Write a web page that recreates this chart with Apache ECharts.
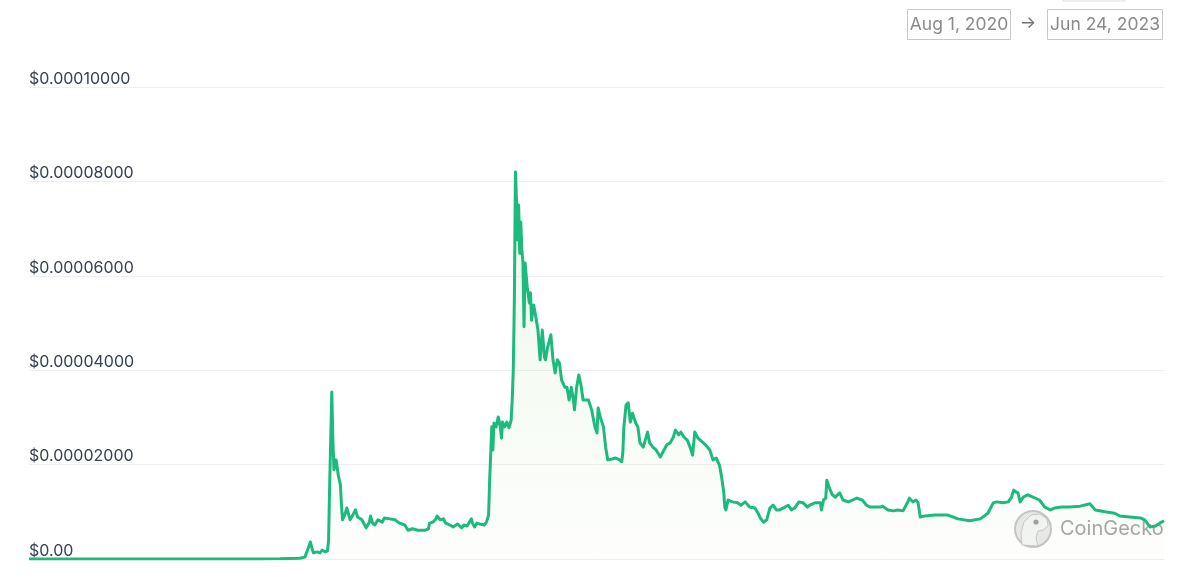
<!DOCTYPE html>
<html>
<head>
<meta charset="utf-8">
<style>
  html, body { margin: 0; padding: 0; background: #ffffff; }
  #chart { width: 1200px; height: 574px; }
</style>
<script src="https://cdn.jsdelivr.net/npm/echarts@6/dist/echarts.min.js"></script>
</head>
<body>
<div id="chart"></div>
<script>
// ---- Data ----
const rangeStart = "Aug 1, 2020";
const rangeEnd = "Jun 24, 2023";

const dates = [
  "2020-08-01","2020-10-06","2021-01-07","2021-03-04","2021-03-23","2021-04-10",
  "2021-04-15","2021-04-18","2021-04-20","2021-04-22","2021-04-23","2021-04-26",
  "2021-04-29","2021-05-01","2021-05-04","2021-05-06","2021-05-07","2021-05-08",
  "2021-05-10","2021-05-11","2021-05-12","2021-05-14","2021-05-16","2021-05-18",
  "2021-05-19","2021-05-20","2021-05-22","2021-05-24","2021-05-27","2021-05-30",
  "2021-06-01","2021-06-03","2021-06-07","2021-06-11","2021-06-14","2021-06-15",
  "2021-06-17","2021-06-19","2021-06-22","2021-06-26","2021-06-28","2021-07-03",
  "2021-07-08","2021-07-12","2021-07-17","2021-07-20","2021-07-24","2021-07-29",
  "2021-08-05","2021-08-08","2021-08-09","2021-08-12","2021-08-15","2021-08-16",
  "2021-08-19","2021-08-22","2021-08-24","2021-08-28","2021-08-31","2021-09-04",
  "2021-09-06","2021-09-08","2021-09-10","2021-09-13","2021-09-17","2021-09-18",
  "2021-09-20","2021-09-22","2021-09-25","2021-09-29","2021-10-01","2021-10-03",
  "2021-10-04","2021-10-06","2021-10-07","2021-10-08","2021-10-10","2021-10-12",
  "2021-10-14","2021-10-15","2021-10-16","2021-10-18","2021-10-20","2021-10-22",
  "2021-10-24","2021-10-25","2021-10-26","2021-10-27","2021-10-28","2021-10-29",
  "2021-10-30","2021-10-31","2021-11-01","2021-11-02","2021-11-03","2021-11-04",
  "2021-11-05","2021-11-06","2021-11-08","2021-11-10","2021-11-11","2021-11-12",
  "2021-11-14","2021-11-16","2021-11-18","2021-11-20","2021-11-22","2021-11-24",
  "2021-11-25","2021-11-27","2021-11-30","2021-12-02","2021-12-04","2021-12-06",
  "2021-12-08","2021-12-10","2021-12-13","2021-12-15","2021-12-17","2021-12-19",
  "2021-12-21","2021-12-22","2021-12-24","2021-12-26","2021-12-28","2021-12-30",
  "2022-01-04","2022-01-07","2022-01-10","2022-01-12","2022-01-13","2022-01-15",
  "2022-01-18","2022-01-20","2022-01-22","2022-01-26","2022-01-29","2022-02-02",
  "2022-02-04","2022-02-05","2022-02-06","2022-02-08","2022-02-10","2022-02-12",
  "2022-02-14","2022-02-15","2022-02-17","2022-02-19","2022-02-21","2022-02-24",
  "2022-02-26","2022-02-28","2022-03-02","2022-03-05","2022-03-08","2022-03-12",
  "2022-03-14","2022-03-18","2022-03-21","2022-03-24","2022-03-26","2022-03-29",
  "2022-03-31","2022-04-03","2022-04-06","2022-04-09","2022-04-11","2022-04-13",
  "2022-04-16","2022-04-20","2022-04-23","2022-04-27","2022-04-30","2022-05-03",
  "2022-05-06","2022-05-08","2022-05-10","2022-05-11","2022-05-12","2022-05-14",
  "2022-05-18","2022-05-23","2022-05-26","2022-05-30","2022-06-03","2022-06-08",
  "2022-06-11","2022-06-13","2022-06-16","2022-06-19","2022-06-22","2022-06-25",
  "2022-06-28","2022-07-01","2022-07-06","2022-07-09","2022-07-12","2022-07-15",
  "2022-07-19","2022-07-23","2022-07-27","2022-07-29","2022-08-03","2022-08-08",
  "2022-08-09","2022-08-11","2022-08-13","2022-08-14","2022-08-16","2022-08-19",
  "2022-08-22","2022-08-24","2022-08-26","2022-08-29","2022-09-03","2022-09-07",
  "2022-09-11","2022-09-16","2022-09-20","2022-09-23","2022-09-28","2022-10-03",
  "2022-10-05","2022-10-10","2022-10-15","2022-10-19","2022-10-24","2022-10-28",
  "2022-10-30","2022-11-02","2022-11-05","2022-11-07","2022-11-09","2022-11-13",
  "2022-11-23","2022-12-05","2022-12-14","2022-12-25","2023-01-04","2023-01-11",
  "2023-01-16","2023-01-19","2023-01-25","2023-01-30","2023-02-02","2023-02-04",
  "2023-02-06","2023-02-08","2023-02-10","2023-02-13","2023-02-17","2023-02-22",
  "2023-02-28","2023-03-05","2023-03-10","2023-03-14","2023-03-21","2023-03-28",
  "2023-04-07","2023-04-16","2023-04-21","2023-04-30","2023-05-09","2023-05-14",
  "2023-05-23","2023-06-02","2023-06-06","2023-06-11","2023-06-16","2023-06-20",
  "2023-06-24"
];

const prices = [
  1e-9, 2e-9, 1e-8, 2e-8, 4e-8, 1.5e-7,
  0.04e-5, 0.23e-5, 0.36e-5, 0.19e-5, 0.13e-5, 0.15e-5,
  0.13e-5, 0.19e-5, 0.15e-5, 0.17e-5, 0.40e-5, 1.57e-5,
  3.54e-5, 2.52e-5, 1.89e-5, 2.10e-5, 1.78e-5, 1.57e-5,
  1.14e-5, 0.83e-5, 0.93e-5, 1.08e-5, 0.83e-5, 0.95e-5,
  1.04e-5, 0.89e-5, 0.83e-5, 0.66e-5, 0.78e-5, 0.91e-5,
  0.76e-5, 0.72e-5, 0.83e-5, 0.78e-5, 0.87e-5, 0.85e-5,
  0.83e-5, 0.76e-5, 0.72e-5, 0.61e-5, 0.64e-5, 0.61e-5,
  0.61e-5, 0.64e-5, 0.76e-5, 0.78e-5, 0.85e-5, 0.91e-5,
  0.83e-5, 0.85e-5, 0.76e-5, 0.72e-5, 0.68e-5, 0.74e-5,
  0.70e-5, 0.66e-5, 0.72e-5, 0.70e-5, 0.85e-5, 0.76e-5,
  0.68e-5, 0.76e-5, 0.74e-5, 0.72e-5, 0.78e-5, 0.93e-5,
  1.67e-5, 2.80e-5, 2.31e-5, 2.88e-5, 2.80e-5, 3.01e-5,
  2.80e-5, 2.56e-5, 2.90e-5, 2.80e-5, 2.90e-5, 2.78e-5,
  2.94e-5, 3.37e-5, 4.00e-5, 5.49e-5, 8.20e-5, 7.61e-5,
  6.76e-5, 7.50e-5, 6.48e-5, 7.14e-5, 6.55e-5, 6.29e-5,
  4.92e-5, 6.27e-5, 5.76e-5, 5.42e-5, 5.64e-5, 5.06e-5,
  5.38e-5, 5.13e-5, 4.85e-5, 4.22e-5, 4.85e-5, 4.28e-5,
  4.22e-5, 4.49e-5, 4.75e-5, 4.22e-5, 3.94e-5, 4.22e-5,
  4.15e-5, 3.79e-5, 3.64e-5, 3.64e-5, 3.37e-5, 3.64e-5,
  3.37e-5, 3.16e-5, 3.64e-5, 3.90e-5, 3.69e-5, 3.37e-5,
  3.37e-5, 3.16e-5, 2.80e-5, 2.67e-5, 3.20e-5, 3.01e-5,
  2.80e-5, 2.37e-5, 2.10e-5, 2.12e-5, 2.14e-5, 2.10e-5,
  2.06e-5, 2.25e-5, 2.80e-5, 3.26e-5, 3.31e-5, 2.90e-5,
  3.09e-5, 3.11e-5, 2.88e-5, 2.80e-5, 2.46e-5, 2.37e-5,
  2.52e-5, 2.69e-5, 2.46e-5, 2.37e-5, 2.31e-5, 2.16e-5,
  2.25e-5, 2.42e-5, 2.46e-5, 2.58e-5, 2.73e-5, 2.63e-5,
  2.69e-5, 2.58e-5, 2.52e-5, 2.35e-5, 2.20e-5, 2.69e-5,
  2.56e-5, 2.48e-5, 2.42e-5, 2.31e-5, 2.10e-5, 2.14e-5,
  1.99e-5, 1.74e-5, 1.42e-5, 1.10e-5, 1.04e-5, 1.25e-5,
  1.21e-5, 1.19e-5, 1.14e-5, 1.21e-5, 1.10e-5, 1.08e-5,
  0.97e-5, 0.87e-5, 0.78e-5, 0.83e-5, 1.08e-5, 1.14e-5,
  1.04e-5, 1.04e-5, 1.10e-5, 1.14e-5, 1.04e-5, 1.08e-5,
  1.21e-5, 1.19e-5, 1.10e-5, 1.14e-5, 1.19e-5, 1.19e-5,
  1.04e-5, 1.25e-5, 1.29e-5, 1.67e-5, 1.53e-5, 1.36e-5,
  1.31e-5, 1.36e-5, 1.40e-5, 1.25e-5, 1.21e-5, 1.25e-5,
  1.29e-5, 1.25e-5, 1.14e-5, 1.10e-5, 1.10e-5, 1.10e-5,
  1.12e-5, 1.04e-5, 1.02e-5, 1.04e-5, 1.02e-5, 1.19e-5,
  1.29e-5, 1.21e-5, 1.25e-5, 1.19e-5, 0.89e-5, 0.91e-5,
  0.93e-5, 0.93e-5, 0.85e-5, 0.81e-5, 0.85e-5, 0.97e-5,
  1.19e-5, 1.21e-5, 1.19e-5, 1.21e-5, 1.31e-5, 1.46e-5,
  1.42e-5, 1.40e-5, 1.21e-5, 1.31e-5, 1.36e-5, 1.31e-5,
  1.25e-5, 1.10e-5, 1.04e-5, 1.08e-5, 1.10e-5, 1.10e-5,
  1.12e-5, 1.17e-5, 1.04e-5, 1.00e-5, 0.97e-5, 0.91e-5,
  0.89e-5, 0.87e-5, 0.83e-5, 0.68e-5, 0.70e-5, 0.76e-5,
  0.81e-5
];

const yTickValues = [0, 0.00002, 0.00004, 0.00006, 0.00008, 0.0001];
const yTickLabels = ["$0.00", "$0.00002000", "$0.00004000", "$0.00006000", "$0.00008000", "$0.00010000"];

// ---- Chart ----
const chart = echarts.init(document.getElementById('chart'), null, { renderer: 'canvas' });
const seriesData = dates.map((d, i) => [d, prices[i]]);
const FONT = 'Inter, "Noto Sans", sans-serif';

function tickLabel(v) {
  let best = 0, bestD = Infinity;
  yTickValues.forEach((t, i) => { const dd = Math.abs(t - v); if (dd < bestD) { bestD = dd; best = i; } });
  return yTickLabels[best];
}

const option = {
  animation: false,
  backgroundColor: '#ffffff',
  grid: { left: 29, right: 36, top: 87, bottom: 15, containLabel: false },
  xAxis: {
    type: 'time',
    min: '2020-08-01',
    max: '2023-06-24',
    axisLine: { show: false },
    axisTick: { show: false },
    axisLabel: { show: false },
    splitLine: { show: false }
  },
  yAxis: {
    type: 'value',
    min: 0,
    max: 0.0001,
    interval: 0.00002,
    axisLine: { show: false },
    axisTick: { show: false },
    splitLine: { show: true, lineStyle: { color: '#eeeeee', width: 1 } },
    axisLabel: {
      inside: true,
      margin: 0,
      align: 'left',
      verticalAlign: 'bottom',
      padding: [0, 0, 0, 0],
      color: '#364152',
      fontFamily: FONT,
      fontSize: 16,
      formatter: tickLabel
    }
  },
  series: [{
    type: 'line',
    data: seriesData,
    showSymbol: false,
    symbol: 'none',
    smooth: false,
    lineStyle: { color: '#1cba7c', width: 3, join: 'round' },
    areaStyle: {
      color: new echarts.graphic.LinearGradient(0, 0, 0, 1, [
        { offset: 0, color: 'rgba(140,200,110,0.22)' },
        { offset: 1, color: 'rgba(140,200,110,0.02)' }
      ])
    },
    z: 5
  }],
  graphic: [
    { type: 'rect', shape: { x: 1063, y: -20, width: 62, height: 21 },
      style: { fill: '#ffffff', stroke: '#dddddd', lineWidth: 1 }, silent: true },
    { type: 'rect', shape: { x: 907.5, y: 9.5, width: 103, height: 30 },
      style: { fill: '#ffffff', stroke: '#c8c8c8', lineWidth: 1 }, silent: true },
    { type: 'text',
      style: { text: rangeStart, x: 959, y: 24.5, align: 'center', verticalAlign: 'middle',
               fill: '#8a8a8a', font: '17.5px ' + FONT }, silent: true },
    { type: 'text',
      style: { text: '→', x: 1028, y: 23, align: 'center', verticalAlign: 'middle',
               fill: '#707070', font: '17px ' + FONT }, silent: true },
    { type: 'rect', shape: { x: 1047.5, y: 9.5, width: 115, height: 30 },
      style: { fill: '#ffffff', stroke: '#c8c8c8', lineWidth: 1 }, silent: true },
    { type: 'text',
      style: { text: rangeEnd, x: 1105, y: 24.5, align: 'center', verticalAlign: 'middle',
               fill: '#8a8a8a', font: '17.5px ' + FONT }, silent: true },
    { type: 'circle', z: 1, silent: true, shape: { cx: 1033, cy: 529, r: 18 },
      style: { fill: 'rgba(225,225,225,0.75)', stroke: 'rgba(185,185,185,0.8)', lineWidth: 2 } },
    { type: 'polygon', z: 1, silent: true,
      shape: { points: [[1022,545],[1021,533],[1024,522],[1031,515],[1040,514],[1047,519],[1048,526],[1043,530],[1038,531],[1036,538],[1038,546]] },
      style: { fill: 'rgba(245,245,245,0.9)', stroke: 'rgba(190,190,190,0.8)', lineWidth: 1 } },
    { type: 'circle', z: 1, silent: true, shape: { cx: 1036, cy: 522, r: 2.6 },
      style: { fill: 'rgba(150,150,150,0.9)' } },
    { type: 'text', z: 1, silent: true,
      style: { text: 'CoinGecko', x: 1060, y: 529, align: 'left', verticalAlign: 'middle',
               fill: 'rgba(150,150,150,0.85)', font: '20px ' + FONT } }
  ]
};
chart.setOption(option);
</script>
</body>
</html>
